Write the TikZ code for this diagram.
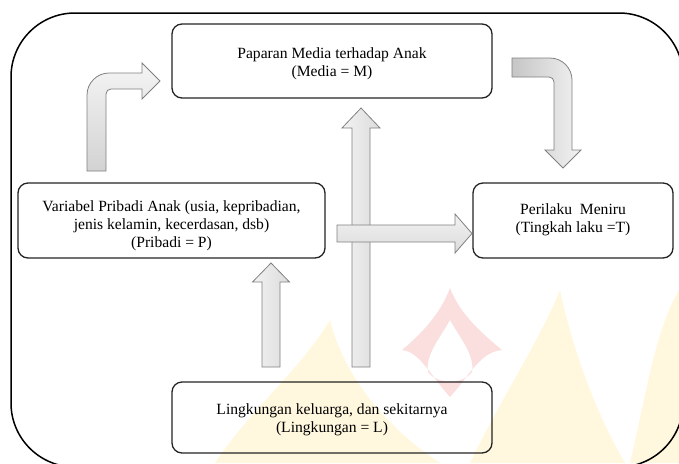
\documentclass[tikz,border=0pt]{standalone}
\usepackage{fontspec}
\setmainfont{Liberation Serif}
\definecolor{wmy}{RGB}{255,248,222}
\definecolor{wmp}{RGB}{251,222,222}
\definecolor{boxline}{RGB}{35,35,35}
\begin{document}
\begin{tikzpicture}[x=1pt,y=1pt,
  box/.style={draw=boxline, line width=1.3pt, rounded corners=10pt, inner sep=0pt},
  txt/.style={align=center, font=\fontsize{15.6}{18}\selectfont, inner sep=0pt},
  blk/.style={draw=gray, line width=0.8pt, line join=miter}]
\useasboundingbox (0,0) rectangle (679,-463);
\clip (0,0) rectangle (679,-463);
% watermark
\fill[wmy] (215,-463) .. controls (250,-410) and (300,-370) .. (330,-320)
  .. controls (345,-380) and (390,-430) .. (440,-463) -- cycle;
\fill[wmy] (470,-463) .. controls (500,-400) and (540,-340) .. (560,-290)
  .. controls (575,-360) and (600,-420) .. (625,-463) -- cycle;
\fill[wmy] (630,-463) .. controls (645,-400) and (655,-330) .. (679,-290)
  -- (679,-463) -- cycle;
\fill[wmp, even odd rule] (450,-288) .. controls (440,-315) and (420,-335) .. (402,-350)
  .. controls (420,-352) and (430,-375) .. (450,-397)
  .. controls (470,-375) and (480,-352) .. (502,-350)
  .. controls (484,-335) and (460,-315) .. (450,-288) -- cycle
  (450,-320) .. controls (440,-338) and (425,-355) .. (428,-372)
  .. controls (438,-385) and (462,-385) .. (472,-372)
  .. controls (475,-355) and (460,-338) .. (450,-320) -- cycle;
% frame
\draw[black, line width=1.5pt, rounded corners=64pt] (11,-13) rectangle (683,-467);
% boxes
\node[box, minimum width=320pt, minimum height=74pt] (media) at (332,-61) {};
\node[txt] (mediat) at ([yshift=-2.5pt]media.center)
  {Paparan Media terhadap Anak\\(Media = M)};
\node[box, minimum width=307pt, minimum height=75pt] (pribadi) at (171.5,-220.5) {};
\node[txt] (pribadit) at ([yshift=-5.5pt]pribadi.center)
  {Variabel Pribadi Anak (usia, kepribadian,\\jenis kelamin, kecerdasan, dsb)\\(Pribadi = P)};
\node[box, minimum width=200pt, minimum height=75pt] (perilaku) at (573,-220.5) {};
\node[txt] (perilakut) at ([yshift=0.5pt]perilaku.center)
  {Perilaku\ \ Meniru\\(Tingkah laku =T)};
\node[box, minimum width=320pt, minimum height=71pt] (ling) at (332,-417.5) {};
\node[txt] (lingt) at ([yshift=-2.5pt]ling.center)
  {Lingkungan keluarga, dan sekitarnya\\(Lingkungan = L)};
% arrow Lingkungan -> Media (vertical)
\draw[blk, left color=gray!10, right color=gray!28]
  (352,-367) -- (352,-128) -- (342,-128) -- (361,-108) -- (380,-128) -- (370,-128)
  -- (370,-367) -- cycle;
% arrow Pribadi -> Perilaku (horizontal)
\draw[blk, top color=gray!10, bottom color=gray!28]
  (337,-225) -- (455,-225) -- (455,-214) -- (472,-233.5) -- (455,-253) -- (455,-242)
  -- (337,-242) -- cycle;
% arrow Lingkungan -> Pribadi
\draw[blk, left color=gray!10, right color=gray!28]
  (262,-367) -- (262,-282) -- (252.5,-282) -- (271,-263) -- (289.5,-282) -- (280,-282)
  -- (280,-367) -- cycle;
% bent arrow Pribadi -> Media
\draw[blk, top color=gray!8, bottom color=gray!35]
  (87,-171) -- (87,-95) .. controls (87,-82.9) and (96.9,-73) .. (109,-73)
  -- (142,-73) -- (142,-63) -- (160,-81) -- (142,-99) -- (142,-89) -- (111,-89)
  .. controls (108.2,-89) and (106,-91.2) .. (106,-94) -- (106,-171) -- cycle;
% bent arrow Media -> Perilaku
\draw[blk, left color=gray!45, right color=gray!10]
  (512,-58) -- (550,-58) .. controls (562.1,-58) and (572,-67.9) .. (572,-80)
  -- (572,-150) -- (581,-150) -- (563,-168) -- (545,-150) -- (554,-150) -- (554,-82)
  .. controls (554,-79.2) and (551.8,-77) .. (549,-77) -- (512,-77) -- cycle;
\end{tikzpicture}
\end{document}
